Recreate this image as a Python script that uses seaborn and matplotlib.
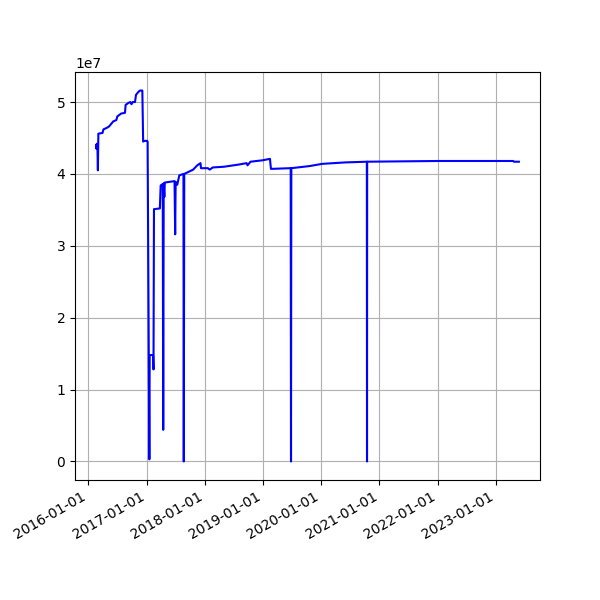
import numpy as np
import pandas as pd
import matplotlib
matplotlib.use("Agg")
import matplotlib.pyplot as plt
import matplotlib.dates as mdates
import seaborn as sns

# daily series (values in units of 1e7)
dates = [
    "2016-02-19", "2016-02-21", "2016-02-23", "2016-02-27", "2016-03-01",
    "2016-03-04", "2016-03-30", "2016-04-05", "2016-04-25", "2016-05-10",
    "2016-05-25", "2016-06-05", "2016-06-25", "2016-07-01", "2016-07-25",
    "2016-08-18", "2016-08-22", "2016-09-10", "2016-09-20", "2016-09-28",
    "2016-10-05", "2016-10-20", "2016-10-26", "2016-11-10", "2016-11-20",
    "2016-12-05", "2016-12-10", "2016-12-20", "2017-01-04", "2017-01-07",
    "2017-01-18", "2017-01-20", "2017-02-10", "2017-02-13", "2017-02-16",
    "2017-03-25", "2017-03-30", "2017-04-12", "2017-04-15", "2017-04-18",
    "2017-04-22", "2017-04-25", "2017-06-25", "2017-06-29", "2017-07-02",
    "2017-07-12", "2017-07-25", "2017-08-20", "2017-08-22", "2017-08-25",
    "2017-10-20", "2017-11-15", "2017-12-05", "2017-12-08", "2018-01-20",
    "2018-02-01", "2018-02-20", "2018-05-01", "2018-08-01", "2018-09-20",
    "2018-09-26", "2018-10-15", "2018-12-31", "2019-02-14", "2019-02-20",
    "2019-06-24", "2019-06-26", "2019-06-28", "2019-10-23", "2020-01-07",
    "2020-05-30", "2020-10-14", "2020-10-15", "2020-10-16", "2022-01-01",
    "2023-04-20", "2023-04-25", "2023-05-26",
]
values = [
    4.40, 4.35, 4.42, 4.40, 4.05,
    4.56, 4.57, 4.62, 4.64, 4.66,
    4.70, 4.73, 4.75, 4.80, 4.84,
    4.85, 4.96, 4.99, 5.00, 4.97,
    5.00, 5.00, 5.10, 5.14, 5.16,
    5.16, 4.45, 4.46, 4.46, 4.45,
    0.03, 1.48, 1.48, 1.28, 3.51,
    3.52, 3.84, 3.86, 0.44, 3.87,
    3.68, 3.88, 3.90, 3.16, 3.89,
    3.85, 3.98, 4.00, 0.00, 4.00,
    4.06, 4.12, 4.15, 4.08, 4.08,
    4.06, 4.09, 4.10, 4.13, 4.15,
    4.12, 4.17, 4.19, 4.21, 4.07,
    4.08, 0.00, 4.08, 4.11, 4.14,
    4.16, 4.17, 0.00, 4.17, 4.18,
    4.18, 4.17, 4.17,
]

df = pd.DataFrame({"date": pd.to_datetime(dates), "value": np.array(values) * 1e7})

fig, ax = plt.subplots(figsize=(6, 6), dpi=100)
sns.lineplot(data=df, x="date", y="value", color="blue", estimator=None, ax=ax)
ax.set_xlabel("")
ax.set_ylabel("")
ax.grid(True)
ax.xaxis.set_major_locator(mdates.YearLocator())
ax.xaxis.set_major_formatter(mdates.DateFormatter("%Y-%m-%d"))
fig.autofmt_xdate()

fig.savefig("out.png", dpi=100)
